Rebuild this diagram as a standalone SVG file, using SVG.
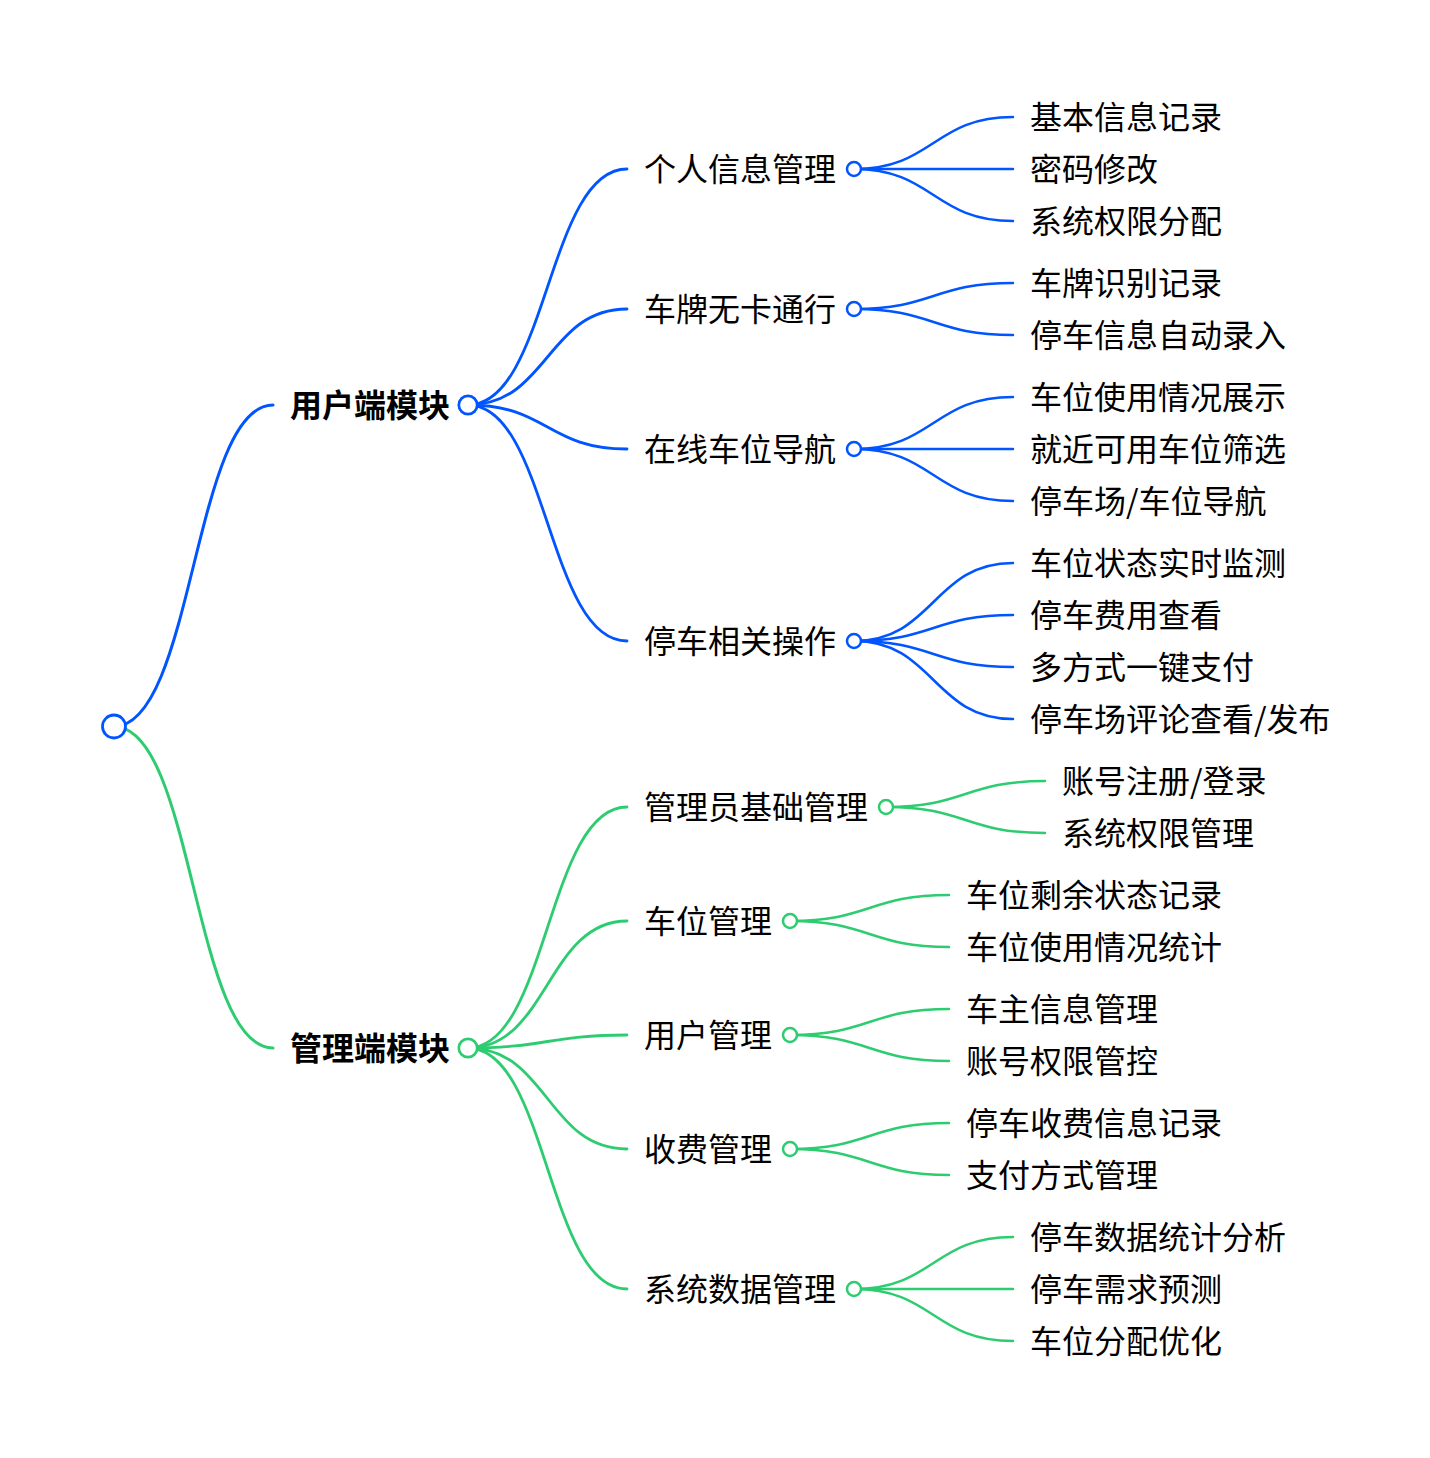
<svg xmlns="http://www.w3.org/2000/svg" width="1430" height="1458" viewBox="0 0 1430 1458">
<style>
text{font-family:"Noto Sans CJK SC","Noto Sans",sans-serif;font-size:32px;fill:#000}
.b{font-weight:bold}
.lk{fill:none;stroke-linecap:round}
.bl{stroke:#0055ff}
.gr{stroke:#2ecc71}
.w0{stroke-width:3}
.w1{stroke-width:2.8}
.w2{stroke-width:2.5}
.c{fill:#fff}
.cb{stroke:#0055ff}
.cg{stroke:#2ecc71}
</style>
<rect width="1430" height="1458" fill="#fff"/>
<g id="connectors">
<path class="lk bl w0" d="M114 726.5C193.5 726.5 193.5 405 273 405"/>
<path class="lk gr w0" d="M114 726.5C193.5 726.5 193.5 1048 273 1048"/>
<path class="lk bl w1" d="M468 405C547.5 405 547.5 169 627 169"/>
<path class="lk bl w1" d="M468 405C547.5 405 547.5 309 627 309"/>
<path class="lk bl w1" d="M468 405C547.5 405 547.5 449 627 449"/>
<path class="lk bl w1" d="M468 405C547.5 405 547.5 641 627 641"/>
<path class="lk gr w1" d="M468 1048C547.5 1048 547.5 807 627 807"/>
<path class="lk gr w1" d="M468 1048C547.5 1048 547.5 921 627 921"/>
<path class="lk gr w1" d="M468 1048C547.5 1048 547.5 1035 627 1035"/>
<path class="lk gr w1" d="M468 1048C547.5 1048 547.5 1149 627 1149"/>
<path class="lk gr w1" d="M468 1048C547.5 1048 547.5 1289 627 1289"/>
<path class="lk bl w2" d="M854 169C933.5 169 933.5 117 1013 117"/>
<path class="lk bl w2" d="M854 169H1013"/>
<path class="lk bl w2" d="M854 169C933.5 169 933.5 221 1013 221"/>
<path class="lk bl w2" d="M854 309C933.5 309 933.5 283 1013 283"/>
<path class="lk bl w2" d="M854 309C933.5 309 933.5 335 1013 335"/>
<path class="lk bl w2" d="M854 449C933.5 449 933.5 397 1013 397"/>
<path class="lk bl w2" d="M854 449H1013"/>
<path class="lk bl w2" d="M854 449C933.5 449 933.5 501 1013 501"/>
<path class="lk bl w2" d="M854 641C933.5 641 933.5 563 1013 563"/>
<path class="lk bl w2" d="M854 641C933.5 641 933.5 615 1013 615"/>
<path class="lk bl w2" d="M854 641C933.5 641 933.5 667 1013 667"/>
<path class="lk bl w2" d="M854 641C933.5 641 933.5 719 1013 719"/>
<path class="lk gr w2" d="M886 807C965.5 807 965.5 781 1045 781"/>
<path class="lk gr w2" d="M886 807C965.5 807 965.5 833 1045 833"/>
<path class="lk gr w2" d="M790 921C869.5 921 869.5 895 949 895"/>
<path class="lk gr w2" d="M790 921C869.5 921 869.5 947 949 947"/>
<path class="lk gr w2" d="M790 1035C869.5 1035 869.5 1009 949 1009"/>
<path class="lk gr w2" d="M790 1035C869.5 1035 869.5 1061 949 1061"/>
<path class="lk gr w2" d="M790 1149C869.5 1149 869.5 1123 949 1123"/>
<path class="lk gr w2" d="M790 1149C869.5 1149 869.5 1175 949 1175"/>
<path class="lk gr w2" d="M854 1289C933.5 1289 933.5 1237 1013 1237"/>
<path class="lk gr w2" d="M854 1289H1013"/>
<path class="lk gr w2" d="M854 1289C933.5 1289 933.5 1341 1013 1341"/>
</g>
<g id="root"><circle class="c cb" cx="114" cy="726.5" r="11.5" stroke-width="2.8"/></g>
<g id="user"><circle class="c cb" cx="468" cy="405" r="9.2" stroke-width="2.7"/><text class="b" x="290" y="417">用户端模块</text></g>
<g id="admin"><circle class="c cg" cx="468" cy="1048" r="9.2" stroke-width="2.7"/><text class="b" x="290" y="1060">管理端模块</text></g>
<g id="u1"><circle class="c cb" cx="854" cy="169" r="7" stroke-width="2.5"/><text x="644" y="181">个人信息管理</text></g>
<g id="u2"><circle class="c cb" cx="854" cy="309" r="7" stroke-width="2.5"/><text x="644" y="321">车牌无卡通行</text></g>
<g id="u3"><circle class="c cb" cx="854" cy="449" r="7" stroke-width="2.5"/><text x="644" y="461">在线车位导航</text></g>
<g id="u4"><circle class="c cb" cx="854" cy="641" r="7" stroke-width="2.5"/><text x="644" y="653">停车相关操作</text></g>
<g id="a1"><circle class="c cg" cx="886" cy="807" r="7" stroke-width="2.5"/><text x="644" y="819">管理员基础管理</text></g>
<g id="a2"><circle class="c cg" cx="790" cy="921" r="7" stroke-width="2.5"/><text x="644" y="933">车位管理</text></g>
<g id="a3"><circle class="c cg" cx="790" cy="1035" r="7" stroke-width="2.5"/><text x="644" y="1047">用户管理</text></g>
<g id="a4"><circle class="c cg" cx="790" cy="1149" r="7" stroke-width="2.5"/><text x="644" y="1161">收费管理</text></g>
<g id="a5"><circle class="c cg" cx="854" cy="1289" r="7" stroke-width="2.5"/><text x="644" y="1301">系统数据管理</text></g>
<g id="u1a"><text x="1030" y="129">基本信息记录</text></g>
<g id="u1b"><text x="1030" y="181">密码修改</text></g>
<g id="u1c"><text x="1030" y="233">系统权限分配</text></g>
<g id="u2a"><text x="1030" y="295">车牌识别记录</text></g>
<g id="u2b"><text x="1030" y="347">停车信息自动录入</text></g>
<g id="u3a"><text x="1030" y="409">车位使用情况展示</text></g>
<g id="u3b"><text x="1030" y="461">就近可用车位筛选</text></g>
<g id="u3c"><text x="1030" y="513">停车场/车位导航</text></g>
<g id="u4a"><text x="1030" y="575">车位状态实时监测</text></g>
<g id="u4b"><text x="1030" y="627">停车费用查看</text></g>
<g id="u4c"><text x="1030" y="679">多方式一键支付</text></g>
<g id="u4d"><text x="1030" y="731">停车场评论查看/发布</text></g>
<g id="a1a"><text x="1062" y="793">账号注册/登录</text></g>
<g id="a1b"><text x="1062" y="845">系统权限管理</text></g>
<g id="a2a"><text x="966" y="907">车位剩余状态记录</text></g>
<g id="a2b"><text x="966" y="959">车位使用情况统计</text></g>
<g id="a3a"><text x="966" y="1021">车主信息管理</text></g>
<g id="a3b"><text x="966" y="1073">账号权限管控</text></g>
<g id="a4a"><text x="966" y="1135">停车收费信息记录</text></g>
<g id="a4b"><text x="966" y="1187">支付方式管理</text></g>
<g id="a5a"><text x="1030" y="1249">停车数据统计分析</text></g>
<g id="a5b"><text x="1030" y="1301">停车需求预测</text></g>
<g id="a5c"><text x="1030" y="1353">车位分配优化</text></g>
</svg>
